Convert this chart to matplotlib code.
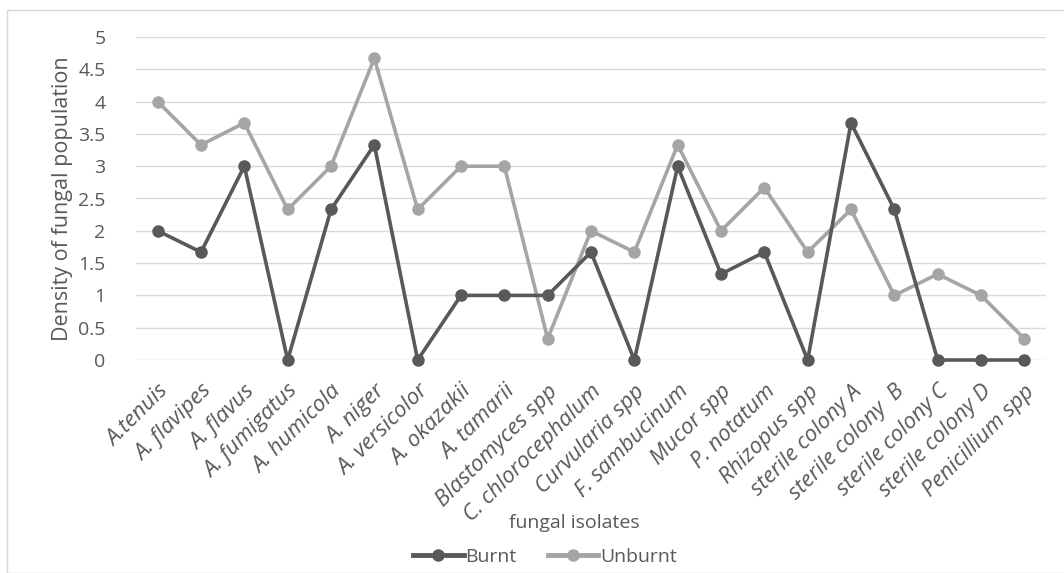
import numpy as np
import matplotlib.pyplot as plt
from matplotlib.patches import Rectangle
from matplotlib.lines import Line2D

plt.rcParams['font.family'] = ['Open Sans', 'DejaVu Sans']

isolates = ['A.tenuis', 'A. flavipes', 'A. flavus', 'A. fumigatus', 'A. humicola',
            'A. niger', 'A. versicolor', 'A. okazakii', 'A. tamarii', 'Blastomyces spp',
            'C. chlorocephalum', 'Curvularia spp', 'F. sambucinum', 'Mucor spp',
            'P. notatum', 'Rhizopus spp', 'sterile colony A', 'sterile colony  B',
            'sterile colony C', 'sterile colony D', 'Penicillium spp']
burnt = [2, 1.67, 3, 0, 2.33, 3.33, 0, 1, 1, 1, 1.67, 0, 3, 1.33, 1.67, 0,
         3.67, 2.33, 0, 0, 0]
unburnt = [4, 3.33, 3.67, 2.33, 3, 4.67, 2.33, 3, 3, 0.33, 2, 1.67, 3.33, 2,
           2.67, 1.67, 2.33, 1, 1.33, 1, 0.33]

c_burnt = '#595959'
c_unburnt = '#a5a5a5'
txt = '#595959'

fig = plt.figure(figsize=(10.64, 5.73), dpi=100)
ax = fig.add_axes([136/1064, 1-360/573, (1046-136)/1064, (360-37)/573])

x = np.arange(len(isolates))
ax.plot(x, unburnt, color=c_unburnt, lw=2.6, marker='o', ms=8, label='Unburnt',
        zorder=3, clip_on=False)
ax.plot(x, burnt, color=c_burnt, lw=2.6, marker='o', ms=8, label='Burnt',
        zorder=4, clip_on=False)

ax.set_xlim(-0.5, len(isolates) - 0.5)
ax.set_ylim(0, 5)
ax.set_yticks(np.arange(0, 5.01, 0.5))
ax.set_yticklabels(['0', '0.5', '1', '1.5', '2', '2.5', '3', '3.5', '4', '4.5', '5'])
ax.grid(axis='y', color='#d9d9d9', lw=1)
ax.set_axisbelow(True)
for s in ax.spines.values():
    s.set_visible(False)
ax.tick_params(length=0, colors=txt)
ax.tick_params(axis='y', pad=22, labelsize=14)

ax.set_xticks(x)
ax.set_xticklabels(isolates, rotation=45, ha='right', rotation_mode='anchor',
                   style='italic', fontsize=16)
ax.tick_params(axis='x', pad=15)

ax.set_ylabel('Density of fungal population', color=txt, fontsize=15.5, labelpad=4)
fig.text(574/1064, 1-523/573, 'fungal isolates', color=txt, fontsize=14,
         ha='center', va='center')

handles = [Line2D([], [], color=c_burnt, lw=3.5, marker='o', ms=8),
           Line2D([], [], color=c_unburnt, lw=3.5, marker='o', ms=8)]
fig.legend(handles, ['Burnt', 'Unburnt'], loc='center', bbox_to_anchor=(545/1064, 1-557/573),
           ncol=2, frameon=False, fontsize=14, labelcolor=txt, handlelength=2.6,
           handletextpad=0.1, columnspacing=1.6, borderpad=0)

fig.patches.append(Rectangle((7/1064, 0), 1, 1-10/573, transform=fig.transFigure,
                             fill=False, ec='#d9d9d9', lw=1))

fig.savefig('out.png', dpi=100)
